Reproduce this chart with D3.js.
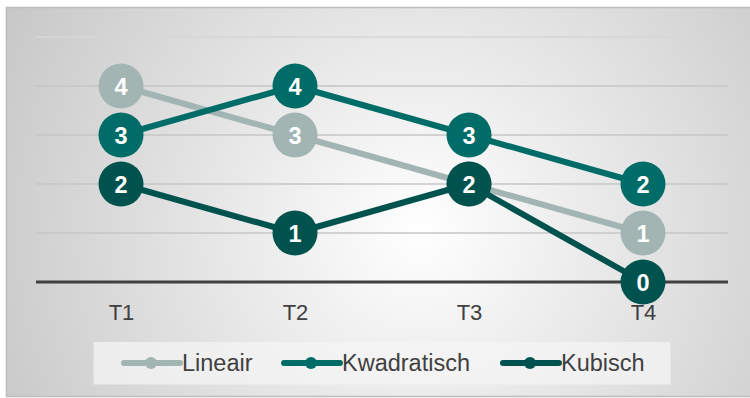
<!DOCTYPE html>
<html>
<head>
<meta charset="utf-8">
<script src="https://cdn.jsdelivr.net/npm/d3@7"></script>
<style>
  html, body { margin: 0; padding: 0; background: #ffffff; }
  svg { display: block; font-family: "Liberation Sans", Arial, sans-serif; }
</style>
</head>
<body>
<svg id="chart" width="750" height="398"></svg>
<script>
// Categories and series
const categories = ["T1", "T2", "T3", "T4"];
const seriesNames = ["Lineair", "Kwadratisch", "Kubisch"];
const lineair = [4, 3, 2, 1];
const kwadratisch = [3, 4, 3, 2];
const kubisch = [2, 1, 2, 0];
const yTicks = [0, 1, 2, 3, 4, 5];
const colors = ["#a2b5b3", "#006c67", "#00524e"];

const series = [lineair, kwadratisch, kubisch].map((values, i) => ({
  name: seriesNames[i], values, color: colors[i]
}));

const svg = d3.select("#chart");

// Background: radial grey-to-white fill
const defs = svg.append("defs");
const grad = defs.append("radialGradient")
  .attr("id", "bg").attr("gradientUnits", "userSpaceOnUse")
  .attr("cx", 420).attr("cy", 230).attr("r", 480);
grad.append("stop").attr("offset", "0%").attr("stop-color", "#ffffff");
grad.append("stop").attr("offset", "100%").attr("stop-color", "#c6c6c6");

svg.append("rect")
  .attr("x", 6.5).attr("y", 7.5).attr("width", 750).attr("height", 389)
  .attr("fill", "url(#bg)").attr("stroke", "#bdbdbd").attr("stroke-width", 1.5);

// Scales
const x = d3.scalePoint().domain(categories).range([34, 730]).padding(0.5);
const y = d3.scaleLinear().domain([0, 5]).range([282, 37]);

// Gridlines
svg.append("g").selectAll("line")
  .data(yTicks.filter(d => d > 0))
  .join("line")
  .attr("x1", 36).attr("x2", 728)
  .attr("y1", d => y(d)).attr("y2", d => y(d))
  .attr("stroke", d => d === 5 ? "#d6d6d6" : "#c6c6c6")
  .attr("stroke-width", 1.3);

// Category axis
const xAxis = svg.append("g")
  .attr("transform", `translate(0,${y(0)})`)
  .call(d3.axisBottom(x).tickSize(0).tickPadding(22));
xAxis.attr("font-size", null).attr("font-family", null);
xAxis.select(".domain").remove();
xAxis.append("line")
  .attr("x1", 36).attr("x2", 728).attr("y1", 0).attr("y2", 0)
  .attr("stroke", "#404040").attr("stroke-width", 3);
xAxis.selectAll(".tick text")
  .style("font-size", "22px").attr("fill", "#404040")
  .style("font-family", "'Liberation Sans', Arial, sans-serif");

// Lines, markers and value labels
const line = d3.line().x((d, i) => x(categories[i])).y(d => y(d));
series.forEach(s => {
  const g = svg.append("g");
  g.append("path")
    .attr("d", line(s.values))
    .attr("fill", "none").attr("stroke", s.color)
    .attr("stroke-width", 6).attr("stroke-linejoin", "round");
  const pts = g.selectAll("g.pt")
    .data(s.values).join("g").attr("class", "pt")
    .attr("transform", (d, i) => `translate(${x(categories[i])},${y(d)})`);
  pts.append("circle").attr("r", 22.5).attr("fill", s.color);
  pts.append("text")
    .attr("text-anchor", "middle").attr("y", 8.5)
    .style("font-size", "23.5px").attr("font-weight", "bold").attr("fill", "#ffffff")
    .text(d => d);
});

// Legend
const legend = svg.append("g");
legend.append("rect")
  .attr("x", 93.5).attr("y", 342).attr("width", 577).attr("height", 42.5)
  .attr("fill", "#f4f4f4").attr("fill-opacity", 0.75);
const legendX = [124, 284, 503];
series.forEach((s, i) => {
  const lg = legend.append("g").attr("transform", `translate(${legendX[i]},363)`);
  lg.append("line").attr("x1", 0).attr("x2", 56).attr("y1", 0).attr("y2", 0)
    .attr("stroke", s.color).attr("stroke-width", 6).attr("stroke-linecap", "round");
  lg.append("circle").attr("cx", 27).attr("r", 6).attr("fill", s.color);
  lg.append("text").attr("x", 58).attr("y", 7.5)
    .style("font-size", "23.5px").attr("fill", "#404040").text(s.name);
});
</script>
</body>
</html>
